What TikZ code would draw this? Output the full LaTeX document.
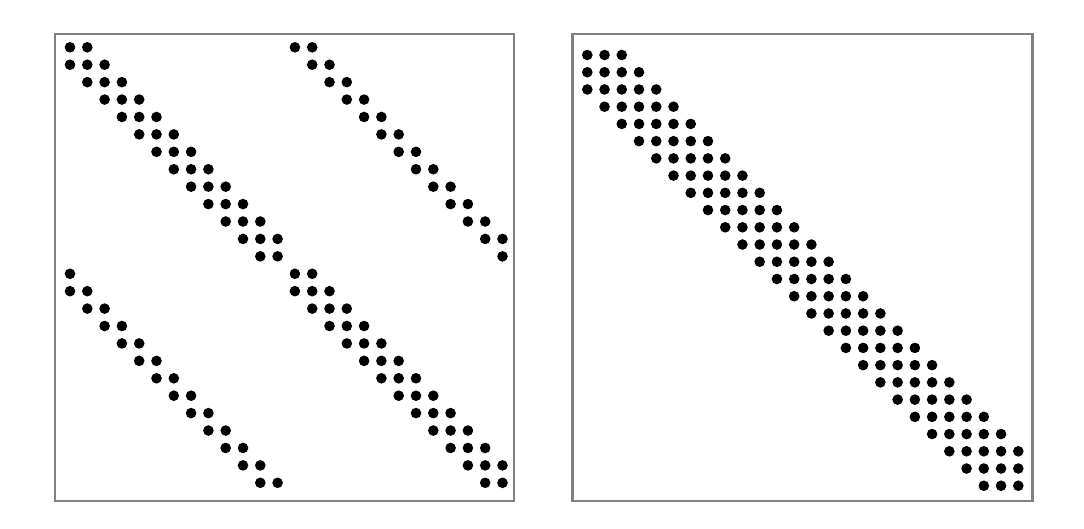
\documentclass[tikz,border=0pt]{standalone}
\begin{document}
\begin{tikzpicture}[x=1pt,y=-1pt]
\useasboundingbox (0,0) rectangle (1084,528);
\tikzset{frame/.style={draw=black!50, line width=2.5pt},
         dotfill/.style={fill=black}}
\draw[frame] (55,34) rectangle (514,501);
\draw[frame] (572.5,34) rectangle (1032.5,501);
% left matrix: block tridiagonal with bidiagonal off-diagonal blocks
\foreach \r in {0,...,25}{
  \foreach \c in {0,...,25}{
    \pgfmathtruncatemacro{\br}{\r>12}
    \pgfmathtruncatemacro{\bc}{\c>12}
    \pgfmathtruncatemacro{\ad}{abs(\c-\r)}
    \pgfmathtruncatemacro{\s}{or(and(\ad<2,\br==\bc),or(\ad==13,\ad==14))}
    \ifnum\s=1
      \fill[dotfill] ({70+17.3*\c},{47.3+17.42*\r}) circle (5.3);
    \fi
  }
}
% right matrix: pentadiagonal
\foreach \r in {0,...,25}{
  \foreach \c in {0,...,25}{
    \pgfmathtruncatemacro{\ad}{abs(\c-\r)}
    \ifnum\ad<3
      \fill[dotfill] ({587.3+17.24*\c},{55+17.23*\r}) circle (5.3);
    \fi
  }
}
\end{tikzpicture}
\end{document}
